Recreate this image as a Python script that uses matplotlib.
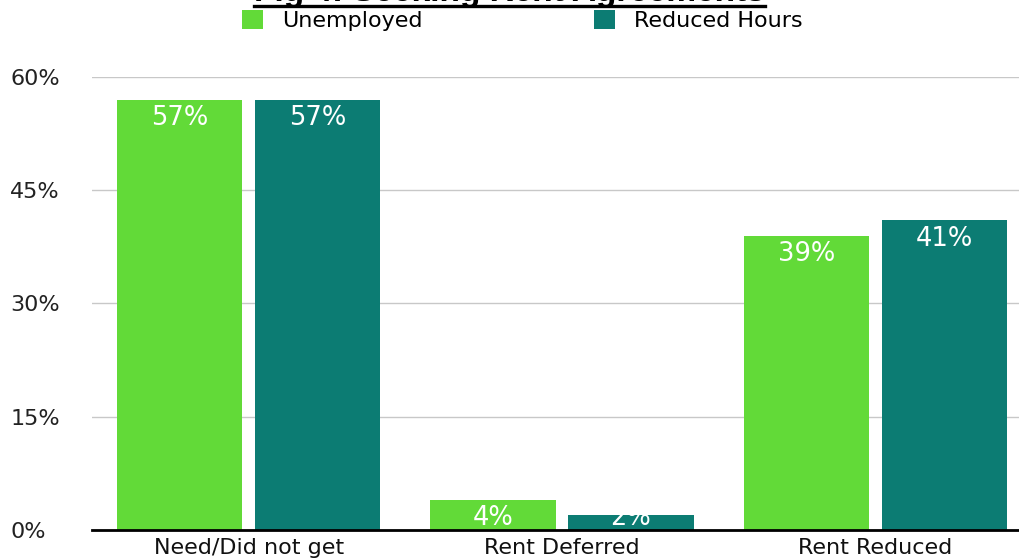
import matplotlib.pyplot as plt
import matplotlib.lines as mlines
import numpy as np

plt.rcParams['font.family'] = ['DejaVu Sans']

# Datos
categorias = ["Need/Did not get", "Rent Deferred", "Rent Reduced"]
desempleados = [57, 4, 39]
horas_reducidas = [57, 2, 41]
series = ["Unemployed", "Reduced Hours"]
colores = ["#62DA38", "#0C7C73"]
yticks = [0, 15, 30, 45, 60]

fig = plt.figure(figsize=(10.19, 5.59), dpi=100)
ax = fig.add_axes([0.0903, 0.0519, 0.9225, 0.8104])

x = np.arange(len(categorias))
ancho = 0.4
desplaz = 0.22

for valores, color, nombre, dx in zip([desempleados, horas_reducidas], colores, series, [-desplaz, desplaz]):
    barras = ax.bar(x + dx, valores, ancho, color=color, label=nombre, zorder=2)
    for b, v in zip(barras, valores):
        # etiqueta blanca dentro de la barra, con un minimo de altura
        y_lab = max(v, 4)
        ax.annotate(f"{v}%", (b.get_x() + b.get_width() / 2, y_lab),
                    xytext=(0, -4), textcoords="offset points",
                    ha="center", va="top", color="white", fontsize=18.5, zorder=3)

ax.set_xlim(-0.5, 2.5)
ax.set_ylim(0, 60)
ax.set_yticks(yticks)
ax.set_yticklabels([f"{t}%" for t in yticks], fontsize=16, color="#222222")
ax.set_xticks(x)
ax.set_xticklabels(categorias, fontsize=16, color="#111111")
ax.tick_params(axis="both", length=0)
ax.tick_params(axis="y", pad=59)
ax.tick_params(axis="x", pad=6)
for t in ax.get_yticklabels():
    t.set_horizontalalignment("left")

ax.grid(axis="y", color="#C8C8C8", linewidth=1, zorder=0)
ax.set_axisbelow(True)
for lado in ["top", "right", "left"]:
    ax.spines[lado].set_visible(False)
ax.spines["bottom"].set_linewidth(2)
ax.spines["bottom"].set_color("black")
ax.spines["bottom"].set_zorder(4)

# Titulo subrayado (recortado arriba)
titulo = fig.text(0.5, 1 - 1 / 559, "Fig 4: Seeking Rent Agreements", ha="center", va="baseline",
                  fontsize=24, fontweight="bold", family="Liberation Sans")
fig.canvas.draw()
bb = titulo.get_window_extent().transformed(fig.transFigure.inverted())
fig.add_artist(mlines.Line2D([bb.x0, bb.x1], [1 - 5.5 / 559] * 2, color="black", linewidth=2.4))

# Leyenda
leg = fig.legend(loc="upper left", bbox_to_anchor=(0.228, 1.0), ncol=2, frameon=False,
                 fontsize=16, handlelength=0.95, handleheight=0.95, columnspacing=7.7,
                 handletextpad=0.85, borderaxespad=0.05)

fig.savefig("out.png", dpi=100)
